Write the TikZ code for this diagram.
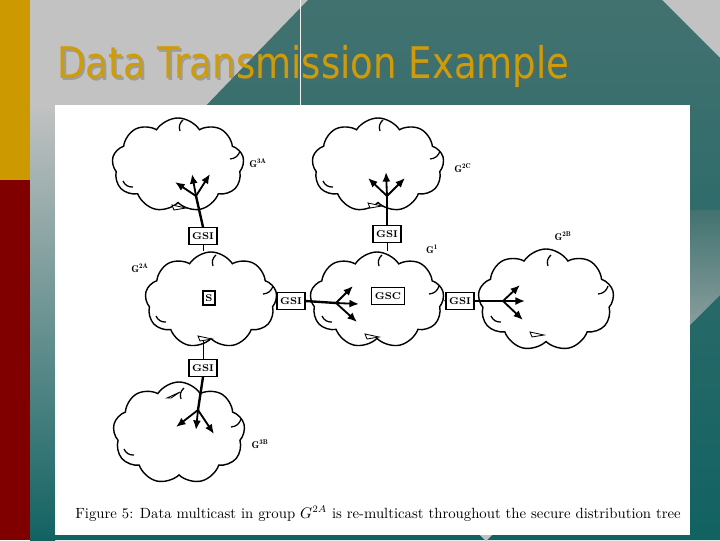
\documentclass[tikz,border=0pt]{standalone}
\usepackage{fontspec}
\usepackage{graphicx}
\newfontfamily\titlefont{DejaVu Sans}
\usetikzlibrary{arrows.meta,positioning,shapes.symbols}

\definecolor{slidegray}{RGB}{194,194,194}
\definecolor{slideteal}{RGB}{66,114,112}
\definecolor{slidetealdark}{RGB}{18,98,98}
\definecolor{titlegold}{RGB}{206,156,8}
\definecolor{bargold}{RGB}{204,153,0}
\definecolor{barred}{RGB}{128,0,0}

\begin{document}
\begin{tikzpicture}[x=0.025cm,y=-0.025cm,>=Latex,
  cloudshape/.style={cloud,draw=black,line width=1pt,cloud puffs=9,cloud puff arc=115,aspect=1.4,inner sep=0pt},
  gsibox/.style={draw=black,line width=0.8pt,fill=white,minimum width=0.7cm,minimum height=0.42cm,inner sep=1pt,font=\fontsize{7}{8}\selectfont\bfseries},
  grplabel/.style={inner sep=0pt,font=\fontsize{7}{8}\selectfont\bfseries},
  stem/.style={line width=1.7pt},
  fan/.style={line width=1.3pt,-{Latex[length=2.4mm,width=2mm]}},
  link/.style={line width=0.6pt},
  tick/.style={line width=0.9pt},
  hook/.style={line width=0.6pt,fill=white}]
\useasboundingbox (0,0) rectangle (720,540);

% slide background
\fill[slidegray] (0,0) rectangle (720,540);
\shade[top color=slideteal,bottom color=slidetealdark] (308,0) -- (662,0) -- (720,58) -- (720,540) -- (30,540) -- (30,288) -- cycle;
\shade[top color=slidegray,bottom color=slidetealdark] (30,105) rectangle (55,540);
\shade[top color=slideteal,bottom color=slidegray!55!slideteal] (690,210) -- (720,210) -- (720,295) -- (690,325) -- cycle;
\draw[white!75!slidegray,line width=0.5pt] (300,0) -- (300,105);
\fill[bargold] (0,0) rectangle (30,180);
\fill[barred] (0,180) rectangle (30,540);
\fill[slidegray] (479,534) -- (493,534) -- (486,541) -- cycle;

% title
\node[anchor=base west,inner sep=0pt,text=black!60,opacity=0.4,font=\titlefont\fontsize{31}{36}\selectfont] (titleshadow) at (59,80) {\scalebox{0.85}[1]{Data Transmission Example}};
\node[anchor=base west,inner sep=0pt,text=titlegold,font=\titlefont\fontsize{31}{36}\selectfont] (title) at (57,78) {\scalebox{0.85}[1]{Data Transmission Example}};

% figure
\fill[white] (55,105) rectangle (690,535);

\node[cloudshape,minimum width=3.3cm,minimum height=2.35cm] (g3a) at (178,165) {};
\node[cloudshape,minimum width=3.3cm,minimum height=2.35cm] (g2c) at (378,165) {};
\node[cloudshape,minimum width=3.3cm,minimum height=2.4cm] (g2a) at (211,300) {};
\node[cloudshape,minimum width=3.35cm,minimum height=2.4cm] (g1) at (377,300) {};
\node[cloudshape,minimum width=3.4cm,minimum height=2.55cm] (g2b) at (546,300) {};
\node[cloudshape,minimum width=3.3cm,minimum height=2.55cm] (g3b) at (179,433) {};

% creases inside the clouds
\foreach \c in {g3a,g2c,g2a,g1,g2b,g3b} {
  \draw[tick] ([shift={(5,-45)}]\c.center) to[bend right=35] ([shift={(2,-34)}]\c.center);
  \draw[tick] ([shift={(62,-14)}]\c.center) to[bend left=35] ([shift={(52,-6)}]\c.center);
  \draw[tick] ([shift={(-55,16)}]\c.center) to[bend right=35] ([shift={(-45,22)}]\c.center);
}

\node[gsibox] (gsitl) at (203,236) {GSI};
\node[gsibox] (gsitm) at (387,234) {GSI};
\node[gsibox] (gsiml) at (291,301) {GSI};
\node[gsibox] (gsimr) at (460,301) {GSI};
\node[gsibox] (gsibl) at (203,368) {GSI};
\node[gsibox,minimum width=0.82cm] (gsc) at (388,296) {GSC};
\node[gsibox,minimum width=0.3cm,minimum height=0.35cm,inner sep=0.5pt] (src) at (209,298) {S};

\node[grplabel] (l3a) at (258,163) {$\mathbf{G^{3A}}$};
\node[grplabel] (l2c) at (463,168) {$\mathbf{G^{2C}}$};
\node[grplabel] (l2b) at (563,236) {$\mathbf{G^{2B}}$};
\node[grplabel] (l1) at (432,249) {$\mathbf{G^{1}}$};
\node[grplabel] (l2a) at (140,268) {$\mathbf{G^{2A}}$};
\node[grplabel] (l3b) at (260,444) {$\mathbf{G^{3B}}$};

% thin links between GSIs and parent groups
\draw[link] (gsitl.south) -- (gsitl.south |- g2a.north);
\draw[link] (gsitm.south) -- (gsitm.south |- g1.north);
\draw[link] (gsiml) -- (g2a);
\draw[link] (gsimr) -- (g1);
\draw[link] (gsibl.north) -- (gsibl.north |- g2a.south);

% re-multicast fans
\coordinate (jtl) at (196,196);
\coordinate (tla) at (175,182);
\coordinate (tlb) at (192,174);
\coordinate (tlc) at (210,174);
\coordinate (jtm) at (387,196);
\coordinate (tma) at (368,178);
\coordinate (tmb) at (386,172);
\coordinate (tmc) at (405,178);
\coordinate (jml) at (336,303);
\coordinate (mla) at (353,286);
\coordinate (mlb) at (359,304);
\coordinate (mlc) at (357,322);
\coordinate (jmr) at (503,301);
\coordinate (mra) at (520,285);
\coordinate (mrb) at (525,301);
\coordinate (mrc) at (523,320);
\coordinate (jbl) at (198,410);
\coordinate (bla) at (176,427);
\coordinate (blb) at (196,430);
\coordinate (blc) at (214,434);

\draw[stem] (gsitl.north) -- (jtl);
\foreach \t in {tla,tlb,tlc} \draw[fan] (jtl) -- (\t);
\draw[stem] (gsitm.north) -- (jtm);
\foreach \t in {tma,tmb,tmc} \draw[fan] (jtm) -- (\t);
\draw[stem] (gsiml.east) -- (jml);
\foreach \t in {mla,mlb,mlc} \draw[fan] (jml) -- (\t);
\draw[stem] (gsimr.east) -- (jmr);
\foreach \t in {mra,mrb,mrc} \draw[fan] (jmr) -- (\t);
\draw[stem] (gsibl.south) -- (jbl);
\foreach \t in {bla,blb,blc} \draw[fan] (jbl) -- (\t);

% small open arrow marks
\foreach \hx/\hy in {172/205,368/203,198/336,365/334,530/332}
  \draw[hook] (\hx,\hy) -- ++(14,3) -- ++(-12,2) -- cycle;
\draw[hook] (167,398) -- ++(13,-6) -- ++(-9,6) -- cycle;

\node[anchor=base west,inner sep=0pt,font=\fontsize{10.5}{12}\selectfont] (caption) at (75,518) {Figure 5: Data multicast in group $G^{2A}$ is re-multicast throughout the secure distribution tree};
\end{tikzpicture}
\end{document}
